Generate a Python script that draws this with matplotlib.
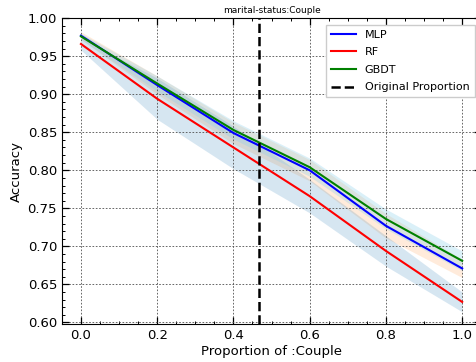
import matplotlib
matplotlib.use("Agg")
import matplotlib.pyplot as plt
import numpy as np
from matplotlib.ticker import MultipleLocator

# Proportion of the "Couple" group in the training data
proportions = [0.0, 0.2, 0.4, 0.6, 0.8, 1.0]

# Mean accuracy per model
mlp_acc = [0.977, 0.912, 0.849, 0.800, 0.727, 0.671]
rf_acc = [0.966, 0.894, 0.830, 0.766, 0.694, 0.627]
gbdt_acc = [0.976, 0.914, 0.853, 0.804, 0.736, 0.681]

# Spread (std) per model
mlp_std = [0.005, 0.012, 0.014, 0.014, 0.016, 0.012]
rf_std = [0.008, 0.027, 0.028, 0.022, 0.020, 0.013]
gbdt_std = [0.004, 0.010, 0.012, 0.012, 0.013, 0.013]

original_proportion = 0.468
title = "marital-status:Couple"

fig = plt.figure(figsize=(4.76, 3.62), dpi=100)
ax = fig.add_axes([0.130, 0.105, 0.881, 0.845])

x = np.array(proportions)
series = [
    ("MLP", mlp_acc, mlp_std, "blue", "tab:orange", 0.15),
    ("RF", rf_acc, rf_std, "red", "tab:blue", 0.18),
    ("GBDT", gbdt_acc, gbdt_std, "green", "skyblue", 0.3),
]
for name, acc, std, color, band, alpha in series:
    acc = np.array(acc)
    std = np.array(std)
    ax.fill_between(x, acc - std, acc + std, color=band, alpha=alpha, lw=0)
for name, acc, std, color, band, alpha in series:
    ax.plot(x, acc, color=color, lw=1.5, label=name)

ax.axvline(original_proportion, color="black", ls="--", lw=1.8,
           label="Original Proportion")

ax.set_xlim(-0.05, 1.05)
ax.set_ylim(0.598, 1.0)
ax.xaxis.set_major_locator(MultipleLocator(0.2))
ax.xaxis.set_minor_locator(MultipleLocator(0.05))
ax.yaxis.set_major_locator(MultipleLocator(0.05))
ax.yaxis.set_minor_locator(MultipleLocator(0.01))
ax.tick_params(which="both", direction="in", top=True, right=True, labelsize=9.5)
ax.tick_params(which="major", length=5, width=0.9)
ax.tick_params(which="minor", length=2.5, width=0.7)
ax.grid(True, which="major", color="0.3", ls=(0, (2, 2)), lw=0.6)

ax.set_xlabel("Proportion of :Couple", fontsize=9.5, labelpad=2)
ax.set_ylabel("Accuracy", fontsize=9.5, labelpad=3)
ax.set_title(title, fontsize=6.5, pad=4)

ax.legend(loc="upper right", fontsize=8.0, fancybox=False, framealpha=1,
          edgecolor="0.8", borderaxespad=0.6, handlelength=2.2,
          labelspacing=0.68, borderpad=0.45)

fig.savefig("out.png", dpi=100)
